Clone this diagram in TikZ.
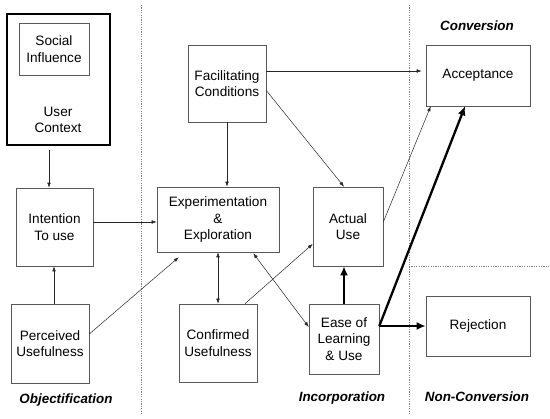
\documentclass[tikz,border=0pt]{standalone}
\usepackage{fontspec}
\setmainfont{Liberation Sans}
\usetikzlibrary{arrows.meta,calc}
\begin{document}
\begin{tikzpicture}[x=1pt,y=-1pt,
  box/.style={draw=black!65,line width=0.6pt,align=center,inner sep=0pt,
    font=\fontsize{13.6}{16.5}\selectfont},
  lbl/.style={font=\fontsize{13.4}{16}\selectfont\bfseries\itshape},
  arr/.style={draw=black!85,line width=0.5pt,-{Latex[length=5pt,width=3.6pt]}},
  darr/.style={draw=black!85,line width=0.5pt,{Latex[length=5pt,width=3.6pt]}-{Latex[length=5pt,width=3.6pt]}},
  tarr/.style={draw=black,line width=2.3pt,-{Latex[length=9pt,width=8pt]}},
  sep/.style={draw=black!50,line width=0.6pt,dash pattern=on 1.2pt off 1.2pt}]
\useasboundingbox (0,0) rectangle (550,419);
% separators
\coordinate (s1a) at (141,5); \coordinate (s1b) at (141,415);
\coordinate (s2a) at (409,5); \coordinate (s2b) at (409,415);
\coordinate (s3a) at (409,266); \coordinate (s3b) at (550,266);
\draw[sep] (s1a) -- (s1b);
\draw[sep] (s2a) -- (s2b);
\draw[sep] (s3a) -- (s3b);
% boxes
\node[box,draw=black,line width=1.2pt,minimum width=103pt,minimum height=131pt] (uc) at (58.5,79.5) {};
\node[box,minimum width=70pt,minimum height=52pt] (si) at (54,49) {Social\\Influence};
\node[font=\fontsize{13.6}{16.5}\selectfont,align=center] (uct) at (58,120) {User\\Context};
\node[box,minimum width=78pt,minimum height=77pt] (fc) at (227,83.5) {Facilitating\\Conditions};
\node[box,minimum width=122pt,minimum height=65pt] (exp) at (218,219.5) {Experimentation\\\&\\Exploration};
\node[box,minimum width=70pt,minimum height=79pt] (au) at (348,226.5) {Actual\\Use};
\node[box,minimum width=70pt,minimum height=70pt] (eol) at (344,339) {Ease of\\Learning\\\& Use};
\node[box,minimum width=78pt,minimum height=78pt] (cu) at (218,343) {Confirmed\\Usefulness};
\node[box,minimum width=77pt,minimum height=78pt] (itu) at (54.5,227) {Intention\\To use};
\node[box,minimum width=78pt,minimum height=79pt] (pu) at (50,343.5) {Perceived\\Usefulness};
\node[box,minimum width=104pt,minimum height=61pt] (acc) at (478,75.5) {Acceptance};
\node[box,minimum width=104pt,minimum height=60pt] (rej) at (478,326) {Rejection};
% labels
\node[lbl] (l1) at (477,26) {Conversion};
\node[lbl] (l2) at (66,400) {Objectification};
\node[lbl] (l3) at (342,398) {Incorporation};
\node[lbl] (l4) at (477,397) {Non-Conversion};
% arrows
\draw[arr] ([xshift=-9.5pt,yshift=-4pt]uc.south) -- ([xshift=-5.5pt]itu.north);
\draw[arr] ([yshift=5pt]itu.east) -- ([yshift=5pt]itu.east -| exp.west);
\draw[arr] ([xshift=4pt]pu.north) -- ([xshift=4pt]pu.north |- itu.south);
\draw[arr] ([yshift=9.5pt]pu.east) -- ([xshift=22pt,yshift=-5pt]exp.south west);
\draw[arr] (fc.south) -- (fc.south |- exp.north);
\draw[arr] ([yshift=12.5pt]fc.east) -- ([yshift=12.5pt,xshift=-4pt]fc.east -| acc.west);
\draw[arr] ([yshift=-7pt]fc.east) -- ([xshift=-4pt]au.north);
\draw[arr] ([yshift=4.5pt]au.east) -- ([xshift=5pt]acc.south west);
\draw[arr] ([xshift=27pt]cu.north) -- ([yshift=-17.5pt]au.west);
\draw[darr] (exp.south) -- (exp.south |- cu.north);
\draw[darr] ([xshift=-26pt,yshift=-1pt]exp.south east) -- ([yshift=12pt]eol.west);
\draw[tarr] (eol.north) -- (eol.north |- au.south);
\draw[tarr] ([yshift=13pt]eol.east) -- ([xshift=-13pt]acc.south);
\draw[tarr] ([yshift=13pt]eol.east) -- ([yshift=13pt]eol.east -| rej.west);
\end{tikzpicture}
\end{document}
